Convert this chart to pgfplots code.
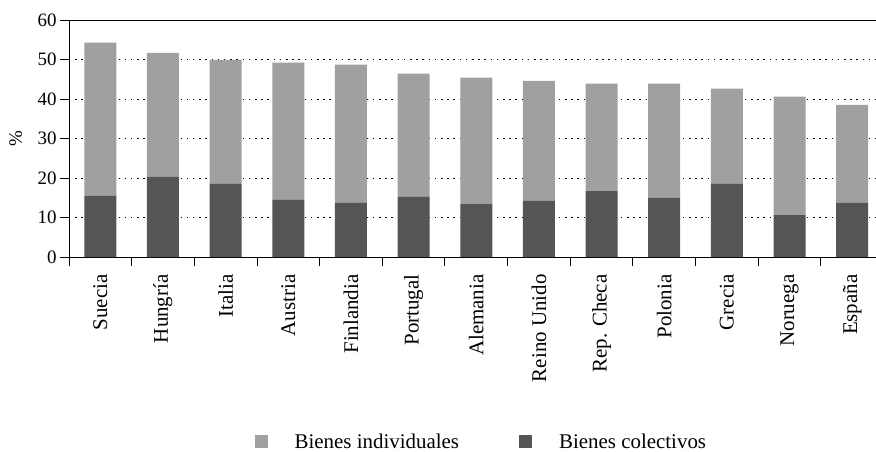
\documentclass[border=0pt]{standalone}
\usepackage{pgfplots}
\pgfplotsset{compat=1.18}
\usepackage{fontspec}
\setmainfont{Liberation Serif}
\definecolor{indiv}{RGB}{160,160,160}
\definecolor{colec}{RGB}{85,85,85}
\begin{document}
\begin{tikzpicture}
\useasboundingbox (-69bp,-195bp) rectangle (807bp,257bp);
\begin{axis}[
  scale only axis,
  width=807bp, height=237bp,
  xmin=-0.5, xmax=12.38,
  ymin=0, ymax=60,
  ybar stacked,
  bar width=32bp,
  axis x line*=bottom,
  axis y line*=left,
  axis line style={-, black, line width=0.9bp},
  /pgf/number format/assume math mode=true,
  ytick={0,10,...,50},
  extra y ticks={60},
  extra y tick style={grid style={solid, black, line width=0.9bp}},
  ymajorgrids,
  grid style={black, line width=0.9bp, dash pattern=on 1.5bp off 4.7bp},
  tick align=outside,
  tick style={black, line width=0.9bp},
  major tick length=9bp,
  yticklabel style={font=\fontsize{19}{19}\selectfont},
  xtick={-0.5,0.5,...,11.5},
  xticklabels={},
  extra x ticks={0,1,...,12},
  extra x tick labels={Suecia,Hungría,Italia,Austria,Finlandia,Portugal,Alemania,Reino Unido,Rep. Checa,Polonia,Grecia,Noruega,España},
  extra x tick style={major tick length=0pt, grid=none,
    tick label style={rotate=90, anchor=east, font=\fontsize{21}{21}\selectfont, xshift=-14bp}},
  ylabel={\%},
  ylabel style={at={(axis description cs:-0.066,0.5)}, anchor=center, font=\fontsize{19}{19}\selectfont},
  legend columns=2,
  legend style={at={(axis description cs:0.511,-0.779)}, anchor=center, draw=none, fill=none,
    font=\fontsize{21}{21}\selectfont, inner sep=0pt,
    /tikz/every odd column/.append style={column sep=25bp},
    /tikz/every even column/.append style={column sep=58bp}},
  legend image code/.code={\fill[#1] (0bp,-6.5bp) rectangle (13bp,6.5bp);},
]
\addplot[fill=colec, draw=none, forget plot] coordinates {
(0,15.5) (1,20.3) (2,18.5) (3,14.45) (4,13.7) (5,15.2) (6,13.4) (7,14.2) (8,16.7) (9,15.0) (10,18.5) (11,10.6) (12,13.7)};
\addplot[fill=indiv, draw=none] coordinates {
(0,38.75) (1,31.4) (2,31.4) (3,34.75) (4,35.0) (5,31.2) (6,32.0) (7,30.4) (8,27.2) (9,28.9) (10,24.1) (11,30.0) (12,24.8)};
\addlegendentry{Bienes individuales}
\addlegendimage{fill=colec, draw=none}
\addlegendentry{Bienes colectivos}
\end{axis}
\end{tikzpicture}
\end{document}
